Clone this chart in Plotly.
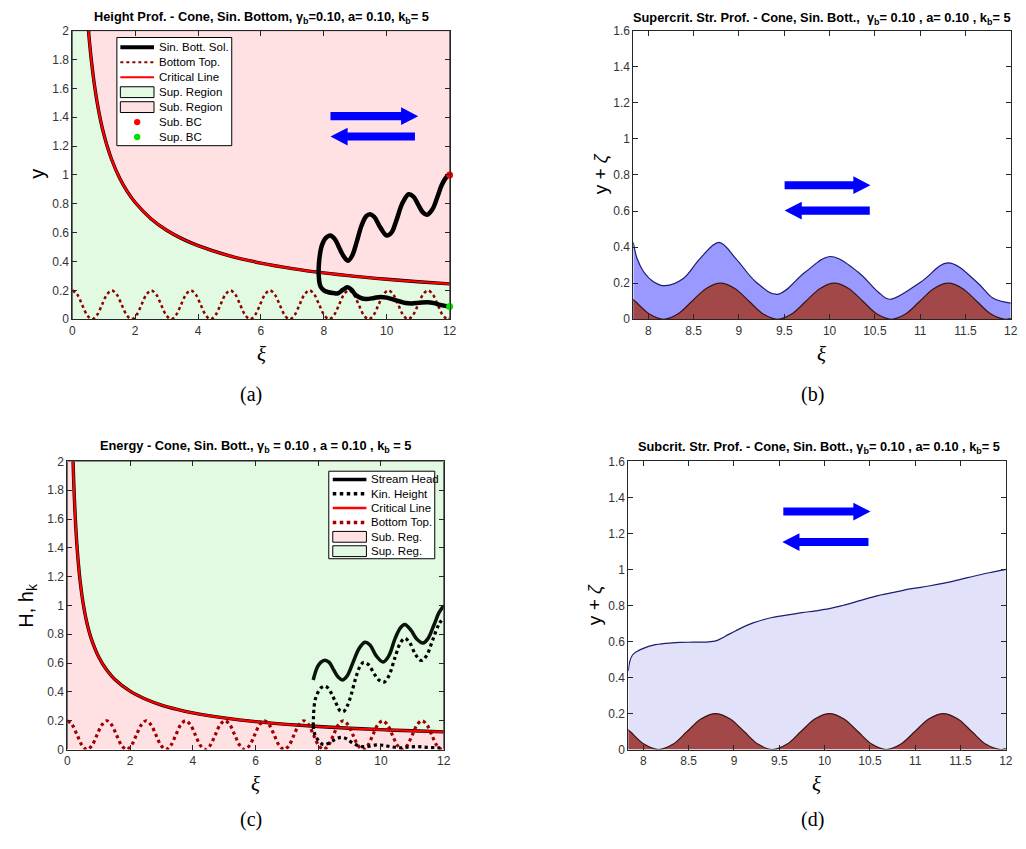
import plotly.graph_objects as go

# ---------------- data ----------------
# sinusoidal bottom topography zeta(xi), shared by all four panels
BOTTOM_XI = [0.000, 0.157, 0.314, 0.471, 0.628, 0.785, 0.942, 1.100, 1.257, 1.414,
             1.571, 1.728, 1.885, 2.042, 2.199, 2.356, 2.513, 2.670, 2.827, 2.985,
             3.142, 3.299, 3.456, 3.613, 3.770, 3.927, 4.084, 4.241, 4.398, 4.555,
             4.712, 4.869, 5.027, 5.184, 5.341, 5.498, 5.655, 5.812, 5.969, 6.126,
             6.283, 6.440, 6.597, 6.754, 6.912, 7.069, 7.226, 7.383, 7.540, 7.697,
             7.854, 8.011, 8.168, 8.325, 8.482, 8.639, 8.796, 8.954, 9.111, 9.268,
             9.425, 9.582, 9.739, 9.896, 10.053, 10.210, 10.367, 10.524, 10.681, 10.838,
             10.996, 11.153, 11.310, 11.467, 11.624, 11.781, 11.938, 12.000]
BOTTOM_ZETA = [0.200, 0.171, 0.100, 0.029, 0.000, 0.029, 0.100, 0.171,
               0.200, 0.171, 0.100, 0.029, 0.000, 0.029, 0.100, 0.171,
               0.200, 0.171, 0.100, 0.029, 0.000, 0.029, 0.100, 0.171,
               0.200, 0.171, 0.100, 0.029, 0.000, 0.029, 0.100, 0.171,
               0.200, 0.171, 0.100, 0.029, 0.000, 0.029, 0.100, 0.171,
               0.200, 0.171, 0.100, 0.029, 0.000, 0.029, 0.100, 0.171,
               0.200, 0.171, 0.100, 0.029, 0.000, 0.029, 0.100, 0.171,
               0.200, 0.171, 0.100, 0.029, 0.000, 0.029, 0.100, 0.171,
               0.200, 0.171, 0.100, 0.029, 0.000, 0.029, 0.100, 0.171,
               0.200, 0.171, 0.100, 0.029, 0.000, 0.005]

# critical depth (panel a)
CRIT_XI = [0.515, 0.55, 0.6, 0.65, 0.7, 0.8, 0.9, 1.0, 1.1, 1.25, 1.5, 1.75, 2, 2.5,
           3, 3.5, 4, 5, 6, 7, 8, 9, 10, 11, 12]
CRIT_Y = [2.0, 1.913, 1.805, 1.711, 1.629, 1.49, 1.377, 1.284, 1.205, 1.107, 0.98, 0.884,
          0.809, 0.697, 0.617, 0.557, 0.51, 0.439, 0.389, 0.351, 0.321, 0.297, 0.277,
          0.26, 0.245]

# critical kinetic height (panel c)
CRITE_XI = [0.182, 0.2, 0.22, 0.25, 0.3, 0.35, 0.4, 0.5, 0.6, 0.7, 0.8, 1.0, 1.25, 1.5,
            2, 2.5, 3, 3.5, 4, 5, 6, 7, 8, 9, 10, 11, 12]
CRITE_H = [2.0, 1.877, 1.761, 1.617, 1.433, 1.293, 1.183, 1.019, 0.902, 0.814, 0.745,
           0.642, 0.553, 0.49, 0.405, 0.349, 0.309, 0.279, 0.255, 0.22, 0.194, 0.175,
           0.16, 0.148, 0.138, 0.13, 0.1225]

# depth profile: subcritical branch (upper) and supercritical branch (lower)
SUB_XI = [7.834, 7.845, 7.87, 7.91, 7.97, 8.05, 8.2, 8.35, 8.5, 8.65, 8.77, 8.9, 9.05,
          9.2, 9.35, 9.47, 9.6, 9.8, 10.0, 10.15, 10.3, 10.5, 10.7, 10.85, 11.0, 11.15,
          11.28, 11.45, 11.6, 11.75, 11.9, 12.0]
SUB_Y = [0.33, 0.39, 0.44, 0.49, 0.53, 0.56, 0.58, 0.555, 0.49, 0.43, 0.405, 0.44, 0.54,
         0.65, 0.715, 0.728, 0.71, 0.635, 0.58, 0.60, 0.68, 0.805, 0.866, 0.85, 0.795,
         0.74, 0.724, 0.76, 0.84, 0.93, 0.985, 1.0]
SUP_XI = [7.834, 7.842, 7.86, 7.9, 8.0, 8.15, 8.3, 8.45, 8.6, 8.75, 8.88, 9.0, 9.15, 9.35,
          9.6, 9.8, 10.0, 10.2, 10.4, 10.6, 10.8, 11.05, 11.3, 11.5, 11.7, 11.9, 12.0]
SUP_Y = [0.33, 0.29, 0.255, 0.225, 0.20, 0.187, 0.182, 0.18, 0.203, 0.222, 0.205, 0.17,
         0.15, 0.14, 0.148, 0.155, 0.15, 0.138, 0.125, 0.113, 0.11, 0.115, 0.118, 0.112,
         0.10, 0.091, 0.089]

# boundary conditions at the outlet
BC_XI = 12.0
BC_SUB = 1.0
BC_SUP = 0.089

# free surface y + zeta for each branch (panels b, d)
SUPSURF_XI = [7.834, 7.877, 7.95, 8.06, 8.186, 8.386, 8.568, 8.78, 8.968, 9.187, 9.424,
              9.733, 10.005, 10.314, 10.533, 10.66, 11.007, 11.308, 11.624, 11.807, 12.0]
SUPSURF = [0.426, 0.335, 0.262, 0.207, 0.186, 0.226, 0.335, 0.426, 0.335, 0.207, 0.138,
           0.262, 0.348, 0.262, 0.153, 0.111, 0.207, 0.313, 0.207, 0.116, 0.089]
SUBSURF_XI = [7.834, 7.85, 7.88, 7.93, 8.0, 8.11, 8.25, 8.4, 8.55, 8.7, 8.8, 8.9, 9.02,
              9.21, 9.42, 9.6, 9.75, 9.9, 10.05, 10.2, 10.4, 10.59, 10.8, 10.96, 11.15,
              11.32, 11.5, 11.69, 11.85, 12.0]
SUBSURF = [0.436, 0.49, 0.525, 0.545, 0.562, 0.58, 0.59, 0.595, 0.596, 0.597, 0.603,
           0.628, 0.66, 0.703, 0.733, 0.748, 0.76, 0.77, 0.782, 0.80, 0.828, 0.855, 0.877,
           0.893, 0.908, 0.924, 0.945, 0.968, 0.985, 1.0]

# energy (panel c)
HEAD_XI = [7.84, 7.9, 7.98, 8.08, 8.21, 8.35, 8.5, 8.65, 8.78, 8.92, 9.1, 9.3, 9.49, 9.65,
           9.85, 10.07, 10.25, 10.45, 10.62, 10.76, 10.95, 11.15, 11.34, 11.5, 11.7,
           11.85, 12.0]
HEAD = [0.483, 0.53, 0.575, 0.605, 0.62, 0.605, 0.55, 0.50, 0.483, 0.51, 0.60, 0.70,
        0.744, 0.725, 0.65, 0.608, 0.65, 0.77, 0.845, 0.868, 0.83, 0.765, 0.739, 0.77,
        0.87, 0.95, 0.998]
KIN_SUP_XI = [7.84, 7.85, 7.87, 7.92, 8.0, 8.1, 8.2, 8.3, 8.42, 8.55, 8.7, 8.8, 8.92, 9.05,
              9.2, 9.35, 9.45, 9.6, 9.8, 9.95, 10.1, 10.25, 10.45, 10.62, 10.76, 10.92,
              11.1, 11.28, 11.45, 11.65, 11.85, 12.0]
KIN_SUP = [0.165, 0.23, 0.30, 0.36, 0.40, 0.43, 0.44, 0.43, 0.39, 0.33, 0.268, 0.262,
           0.30, 0.38, 0.50, 0.585, 0.605, 0.59, 0.52, 0.48, 0.468, 0.51, 0.64, 0.74,
           0.772, 0.74, 0.66, 0.618, 0.65, 0.76, 0.87, 0.914]
KIN_SUB_XI = [7.84, 7.87, 7.92, 8.0, 8.15, 8.3, 8.5, 8.72, 8.9, 9.1, 9.35, 9.6, 9.85,
              10.05, 10.3, 10.6, 10.9, 11.2, 11.5, 11.8, 12.0]
KIN_SUB = [0.165, 0.12, 0.09, 0.065, 0.035, 0.04, 0.065, 0.085, 0.075, 0.045, 0.022,
           0.022, 0.032, 0.03, 0.02, 0.012, 0.018, 0.02, 0.015, 0.012, 0.012]

X_FULL = [0, 12]
Y_FULL = [0, 2]
X_ZOOM = [7.834, 12]
Y_ZOOM = [0, 1.6]

# ---------------- styling ----------------
W, H = 1026, 849
SANS = "Liberation Sans, Arial, sans-serif"
SERIF = "Liberation Serif, DejaVu Serif, serif"
AX_COL = "#262626"
GREEN = "rgb(225,250,225)"
PINK = "rgb(255,225,228)"
DARKRED = "#8c0000"
BOT_FILL = "rgb(163,72,72)"
BOT_LINE = "#3c1414"
SURF_LINE = "#1c1c70"


def px(x):
    return x / W


def py(y):
    return 1 - y / H


fig = go.Figure()

# panel domains (pixels: left, top, right, bottom)
PANELS = {
    "": (70, 24, 451, 317.5),
    "2": (636.5, 24, 1017.7, 317.5),
    "3": (65, 462, 445, 755),
    "4": (631.5, 462, 1012.7, 755),
}


def ax(k):
    return ("x" + k, "y" + k)


def spline(xs, ys, k, **kw):
    xa, ya = ax(k)
    fig.add_trace(go.Scatter(x=xs, y=ys, mode="lines", line_shape="spline",
                             xaxis=xa, yaxis=ya, showlegend=False,
                             hoverinfo="skip", **kw))


def poly(xs, ys, k, fill, edge="black"):
    xa, ya = ax(k)
    fig.add_trace(go.Scatter(x=xs, y=ys, mode="lines", fill="toself", fillcolor=fill,
                             line=dict(color=edge, width=1), xaxis=xa, yaxis=ya,
                             showlegend=False, hoverinfo="skip"))


# ---- panel (a): height profile ----
poly([X_FULL[0], X_FULL[0]] + CRIT_XI + [X_FULL[1]],
     [Y_FULL[0], Y_FULL[1]] + CRIT_Y + [Y_FULL[0]], "", GREEN)
poly(CRIT_XI + [X_FULL[1], CRIT_XI[0]],
     CRIT_Y + [Y_FULL[1], Y_FULL[1]], "", PINK)
spline(BOTTOM_XI, BOTTOM_ZETA, "", line=dict(color=DARKRED, width=2.5, dash="dot"))
spline(CRIT_XI, CRIT_Y, "", line=dict(color="black", width=3.4))
spline(CRIT_XI, CRIT_Y, "", line=dict(color="red", width=2.2))
spline(SUB_XI[::-1] + SUP_XI[1:], SUB_Y[::-1] + SUP_Y[1:], "",
       line=dict(color="black", width=4.5))
fig.add_trace(go.Scatter(x=[BC_XI], y=[BC_SUB], mode="markers", cliponaxis=False,
                         marker=dict(color="red", size=7), showlegend=False,
                         hoverinfo="skip"))
fig.add_trace(go.Scatter(x=[BC_XI], y=[BC_SUP], mode="markers", cliponaxis=False,
                         marker=dict(color="#00e000", size=7), showlegend=False,
                         hoverinfo="skip"))

# ---- panel (b): supercritical free surface ----
spline(SUPSURF_XI, SUPSURF, "2", fill="tozeroy", fillcolor="rgb(153,153,255)",
       line=dict(color=SURF_LINE, width=1.2))
spline(BOTTOM_XI, BOTTOM_ZETA, "2", fill="tozeroy", fillcolor=BOT_FILL,
       line=dict(color=BOT_LINE, width=1.2))

# ---- panel (c): energy ----
poly([X_FULL[0], X_FULL[0]] + CRITE_XI + [X_FULL[1]],
     [Y_FULL[0], Y_FULL[1]] + CRITE_H + [Y_FULL[0]], "3", PINK)
poly(CRITE_XI + [X_FULL[1], CRITE_XI[0]],
     CRITE_H + [Y_FULL[1], Y_FULL[1]], "3", GREEN)
spline(CRITE_XI, CRITE_H, "3", line=dict(color="black", width=3.4))
spline(CRITE_XI, CRITE_H, "3", line=dict(color="red", width=2.2))
spline(BOTTOM_XI, BOTTOM_ZETA, "3", line=dict(color="#a00000", width=3.2, dash="dot"))
spline(KIN_SUP_XI, KIN_SUP, "3", line=dict(color="black", width=3.2, dash="dot"))
spline(KIN_SUB_XI, KIN_SUB, "3", line=dict(color="black", width=3.2, dash="dot"))
spline(HEAD_XI, HEAD, "3", line=dict(color="#0a140a", width=3.5))

# ---- panel (d): subcritical free surface ----
spline(SUBSURF_XI, SUBSURF, "4", fill="tozeroy", fillcolor="rgb(225,225,250)",
       line=dict(color=SURF_LINE, width=1.2))
spline(BOTTOM_XI, BOTTOM_ZETA, "4", fill="tozeroy", fillcolor=BOT_FILL,
       line=dict(color=BOT_LINE, width=1.2))

# ---------------- axes ----------------
layout = dict(width=W, height=H, margin=dict(l=0, r=0, t=0, b=0), autosize=False,
              paper_bgcolor="white", plot_bgcolor="white", showlegend=False)

common = dict(showline=True, mirror="ticks", linecolor=AX_COL, linewidth=1,
              ticks="inside", ticklen=5, tickcolor=AX_COL, showgrid=False,
              zeroline=False, tickfont=dict(family=SANS, size=12, color="#333333"))

ranges = {
    "": (X_FULL, Y_FULL, 2, 0, 0.2),
    "2": (X_ZOOM, Y_ZOOM, 0.5, 8, 0.2),
    "3": (X_FULL, Y_FULL, 2, 0, 0.2),
    "4": (X_ZOOM, Y_ZOOM, 0.5, 8, 0.2),
}
for k, (l, t, r, b) in PANELS.items():
    xr, yr, dx, x0, dy = ranges[k]
    layout["xaxis" + k] = dict(common, domain=[px(l), px(r)], range=xr, dtick=dx,
                               tick0=x0, anchor="y" + k)
    layout["yaxis" + k] = dict(common, domain=[py(b), py(t)], range=yr, dtick=dy,
                               tick0=0, anchor="x" + k)
fig.update_layout(**layout)

# ---------------- text ----------------
ann = []


def text(x, y, s, size, family=SANS, angle=0, xanchor="center", color="black"):
    ann.append(dict(x=px(x), y=py(y), xref="paper", yref="paper", text=s,
                    showarrow=False, textangle=angle, xanchor=xanchor,
                    yanchor="middle", font=dict(family=family, size=size, color=color)))


text(261, 11, "<b>Height Prof. - Cone, Sin. Bottom, γ<sub>b</sub>=0.10, a= 0.10, "
     "k<sub>b</sub>= 5</b>", 12.8)
text(827, 12, "<b>Supercrit. Str. Prof. - Cone, Sin. Bott.,  γ<sub>b</sub>= 0.10 , "
     "a= 0.10 , k<sub>b</sub>= 5</b>", 12.8)
text(255, 447, "<b>Energy - Cone, Sin. Bott., γ<sub>b</sub> = 0.10 , a = 0.10 , "
     "k<sub>b</sub> = 5</b>", 12.8)
text(824, 448, "<b>Subcrit. Str. Prof. - Cone, Sin. Bott., γ<sub>b</sub>= 0.10 , "
     "a= 0.10 , k<sub>b</sub>= 5</b>", 12.8)

text(35, 170, "y", 20, angle=-90)
text(603, 170, "y + <i>ζ</i>", 19, angle=-90)
text(25, 608, "H, h<sub>k</sub>", 20, angle=-90)
text(598, 608, "y + <i>ζ</i>", 19, angle=-90)

text(261, 353, "<i>ξ</i>", 21, family=SERIF)
text(827, 353, "<i>ξ</i>", 21, family=SERIF)
text(255, 790, "<i>ξ</i>", 21, family=SERIF)
text(822, 790, "<i>ξ</i>", 21, family=SERIF)

text(250, 394, "(a)", 20, family=SERIF)
text(817, 394, "(b)", 20, family=SERIF)
text(250, 826, "(c)", 20, family=SERIF)
text(817, 826, "(d)", 20, family=SERIF)

# ---------------- legends and flow arrows ----------------
shapes = []


def legend(box, sx0, sx1, tx, row0, drow, entries):
    x0, y0, x1, y1 = box
    shapes.append(dict(type="rect", xref="paper", yref="paper", x0=px(x0), x1=px(x1),
                       y0=py(y1), y1=py(y0), fillcolor="white",
                       line=dict(color="black", width=1)))
    for i, (label, kind, style) in enumerate(entries):
        yc = row0 + i * drow
        if kind == "line":
            shapes.append(dict(type="line", xref="paper", yref="paper", x0=px(sx0),
                               x1=px(sx1), y0=py(yc), y1=py(yc), line=style))
        elif kind == "rect":
            shapes.append(dict(type="rect", xref="paper", yref="paper", x0=px(sx0),
                               x1=px(sx1), y0=py(yc + 5.5), y1=py(yc - 5.5),
                               fillcolor=style, line=dict(color="black", width=1)))
        else:
            cx = (sx0 + sx1) / 2
            shapes.append(dict(type="circle", xref="paper", yref="paper",
                               x0=px(cx - 3.2), x1=px(cx + 3.2), y0=py(yc + 3.2),
                               y1=py(yc - 3.2), fillcolor=style,
                               line=dict(color=style, width=0)))
        text(tx, yc, label, 11.5, xanchor="left")


legend((115, 31, 231, 141), 118.5, 152.5, 155.5, 41, 15.2, [
    ("Sin. Bott. Sol.", "line", dict(color="black", width=4)),
    ("Bottom Top.", "line", dict(color=DARKRED, width=2, dash="dot")),
    ("Critical Line", "line", dict(color="red", width=2)),
    ("Sup. Region", "rect", GREEN),
    ("Sub. Region", "rect", PINK),
    ("Sub. BC", "dot", "red"),
    ("Sup. BC", "dot", "#00e000"),
])
legend((329, 472, 436, 561), 333, 367, 370, 480.3, 14.6, [
    ("Stream Head", "line", dict(color="black", width=3.5)),
    ("Kin. Height", "line", dict(color="black", width=3.5, dash="dot")),
    ("Critical Line", "line", dict(color="red", width=2.5)),
    ("Bottom Top.", "line", dict(color="#a00000", width=3.5, dash="dot")),
    ("Sub. Reg.", "rect", PINK),
    ("Sup. Reg.", "rect", GREEN),
])


def arrow(x_tail, x_tip, yc, shaft=8.3, head_h=18.0, head_len=17.3):
    d = 1 if x_tip > x_tail else -1
    xb = x_tip - d * head_len
    pts = [(x_tail, yc - shaft / 2), (xb, yc - shaft / 2), (xb, yc - head_h / 2),
           (x_tip, yc), (xb, yc + head_h / 2), (xb, yc + shaft / 2),
           (x_tail, yc + shaft / 2)]
    path = "M " + " L ".join(f"{px(x):.5f},{py(y):.5f}" for x, y in pts) + " Z"
    shapes.append(dict(type="path", xref="paper", yref="paper", path=path,
                       fillcolor="#0000ff", line=dict(color="#0000ff", width=0)))


arrow(330.7, 419.3, 111.0)
arrow(416.0, 330.7, 131.7)
arrow(789.3, 876.0, 181.2)
arrow(875.3, 789.3, 207.0)
arrow(788.0, 876.0, 513.0)
arrow(874.0, 787.0, 544.0)

fig.update_layout(annotations=ann, shapes=shapes)
fig.write_html("out.html")
